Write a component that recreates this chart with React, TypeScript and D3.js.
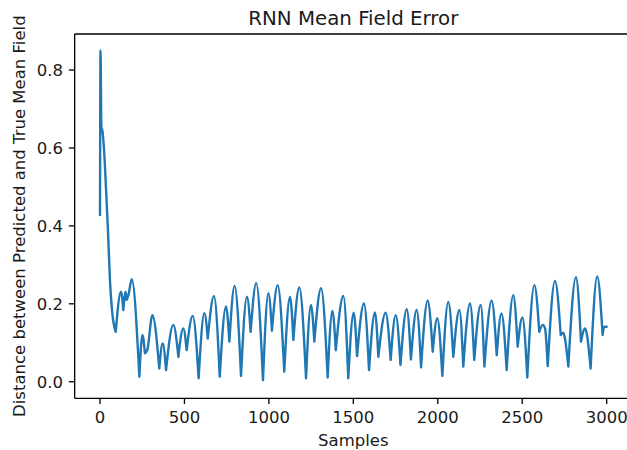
import React from "react";
import * as d3 from "d3";

const samples = [
  0, 3, 8, 14, 24, 36, 47, 59, 71, 93, 124, 138, 152, 158, 168, 188, 233, 251, 266, 280,
  310, 351, 371, 391, 434, 464, 493, 513, 549, 584, 618, 638, 675, 709, 746, 766, 797, 835,
  870, 892, 925, 965, 997, 1018, 1052, 1091, 1125, 1145, 1180, 1220, 1249, 1269, 1309, 1348,
  1376, 1396, 1441, 1470, 1502, 1522, 1563, 1593, 1628, 1648, 1691, 1721, 1751, 1779, 1816,
  1841, 1875, 1901, 1940, 1970, 1997, 2027, 2062, 2092, 2128, 2151, 2191, 2216, 2254, 2276,
  2319, 2349, 2377, 2408, 2447, 2473, 2501, 2530, 2572, 2601, 2621, 2635, 2651, 2694, 2728,
  2743, 2753, 2773, 2818, 2848, 2872, 2882, 2905, 2944, 2976, 2986, 3000,
];
const errors = [
  0.428, 0.85, 0.655, 0.645, 0.595, 0.492, 0.39, 0.26, 0.184, 0.128, 0.231, 0.184, 0.231, 0.21,
  0.222, 0.263, 0.013, 0.12, 0.073, 0.081, 0.171, 0.034, 0.098, 0.03, 0.146, 0.064, 0.137,
  0.081, 0.169, 0.009, 0.176, 0.111, 0.22, 0.013, 0.193, 0.103, 0.246, 0.015, 0.218, 0.128,
  0.253, 0.004, 0.227, 0.131, 0.248, 0.026, 0.218, 0.107, 0.242, 0.009, 0.197, 0.103, 0.24,
  0.011, 0.182, 0.081, 0.22, 0.009, 0.177, 0.066, 0.201, 0.03, 0.178, 0.064, 0.177, 0.056,
  0.171, 0.043, 0.186, 0.057, 0.184, 0.037, 0.208, 0.077, 0.163, 0.015, 0.205, 0.064, 0.184,
  0.039, 0.201, 0.056, 0.197, 0.039, 0.208, 0.068, 0.175, 0.03, 0.222, 0.09, 0.165, 0.011,
  0.248, 0.128, 0.146, 0.137, 0.04, 0.259, 0.12, 0.126, 0.111, 0.039, 0.268, 0.103, 0.137,
  0.124, 0.034, 0.27, 0.12, 0.141, 0.141,
];
const xTicks = [0, 500, 1000, 1500, 2000, 2500, 3000];
const yTicks = [0.0, 0.2, 0.4, 0.6, 0.8];
const title = "RNN Mean Field Error";
const xLabel = "Samples";
const yLabel = "Distance between Predicted and True Mean Field";

const W = 627;
const H = 450;
const FONT = "DejaVu Sans";
const TEXT = "#1a1a1a";
const FS = 16.5;
const TICK = 5.8;

export default function App() {
  const x = d3.scaleLinear().domain([-150, 3150]).range([74.67, 632]);
  const y = d3.scaleLinear().domain([-0.0425, 0.8925]).range([398.3, 34]);
  const data = samples.map((s, i) => [s, errors[i]] as [number, number]);
  const line = d3
    .line<[number, number]>()
    .x((d) => x(d[0]))
    .y((d) => y(d[1]))
    .curve(d3.curveMonotoneX);
  // split the series at local minima so the troughs stay sharp (V-shaped)
  const cuts: number[] = [0];
  for (let i = 1; i < data.length - 1; i++) {
    if (errors[i] < errors[i - 1] && errors[i] < errors[i + 1]) cuts.push(i);
  }
  cuts.push(data.length - 1);
  const pieces: string[] = [];
  for (let k = 0; k < cuts.length - 1; k++) {
    pieces.push(line(data.slice(cuts[k], cuts[k + 1] + 1)) || "");
  }
  const [x0, x1] = x.range();
  const [yb, yt] = y.range();
  return (
    <svg
      width={W}
      height={H}
      style={{ position: "absolute", left: 0, top: 0, background: "#fff" }}
      fontFamily={FONT}
    >
      <rect x={0} y={0} width={W} height={H} fill="#fff" />
      <path
        d={pieces.join("")}
        fill="none"
        stroke="#1f77b4"
        strokeWidth={2.4}
        strokeLinejoin="round"
        strokeLinecap="round"
      />
      <g stroke="#000" strokeWidth={1.3} fill="none">
        <line x1={x0} x2={x0} y1={yb} y2={yt} />
        <line x1={x0} x2={x1} y1={yb} y2={yb} />
        <line x1={x0} x2={x1} y1={yt} y2={yt} />
        <line x1={x1} x2={x1} y1={yb} y2={yt} />
      </g>
      {xTicks.map((t) => (
        <g key={"x" + t}>
          <line x1={x(t)} x2={x(t)} y1={yb} y2={yb + TICK} stroke="#000" strokeWidth={1.3} />
          <text x={x(t)} y={423} textAnchor="middle" fontSize={FS} fill={TEXT}>
            {t}
          </text>
        </g>
      ))}
      {yTicks.map((t) => (
        <g key={"y" + t}>
          <line x1={x0} x2={x0 - TICK} y1={y(t)} y2={y(t)} stroke="#000" strokeWidth={1.3} />
          <text x={x0 - 2 * TICK} y={y(t)} dy="0.36em" textAnchor="end" fontSize={FS} fill={TEXT}>
            {t.toFixed(1)}
          </text>
        </g>
      ))}
      <text x={(x0 + x1) / 2} y={25} textAnchor="middle" fontSize={19.8} fill={TEXT}>
        {title}
      </text>
      <text x={(x0 + x1) / 2} y={446} textAnchor="middle" fontSize={FS} fill={TEXT}>
        {xLabel}
      </text>
      <text
        transform={`translate(25, ${(yb + yt) / 2}) rotate(-90)`}
        textAnchor="middle"
        fontSize={FS}
        fill={TEXT}
      >
        {yLabel}
      </text>
    </svg>
  );
}
